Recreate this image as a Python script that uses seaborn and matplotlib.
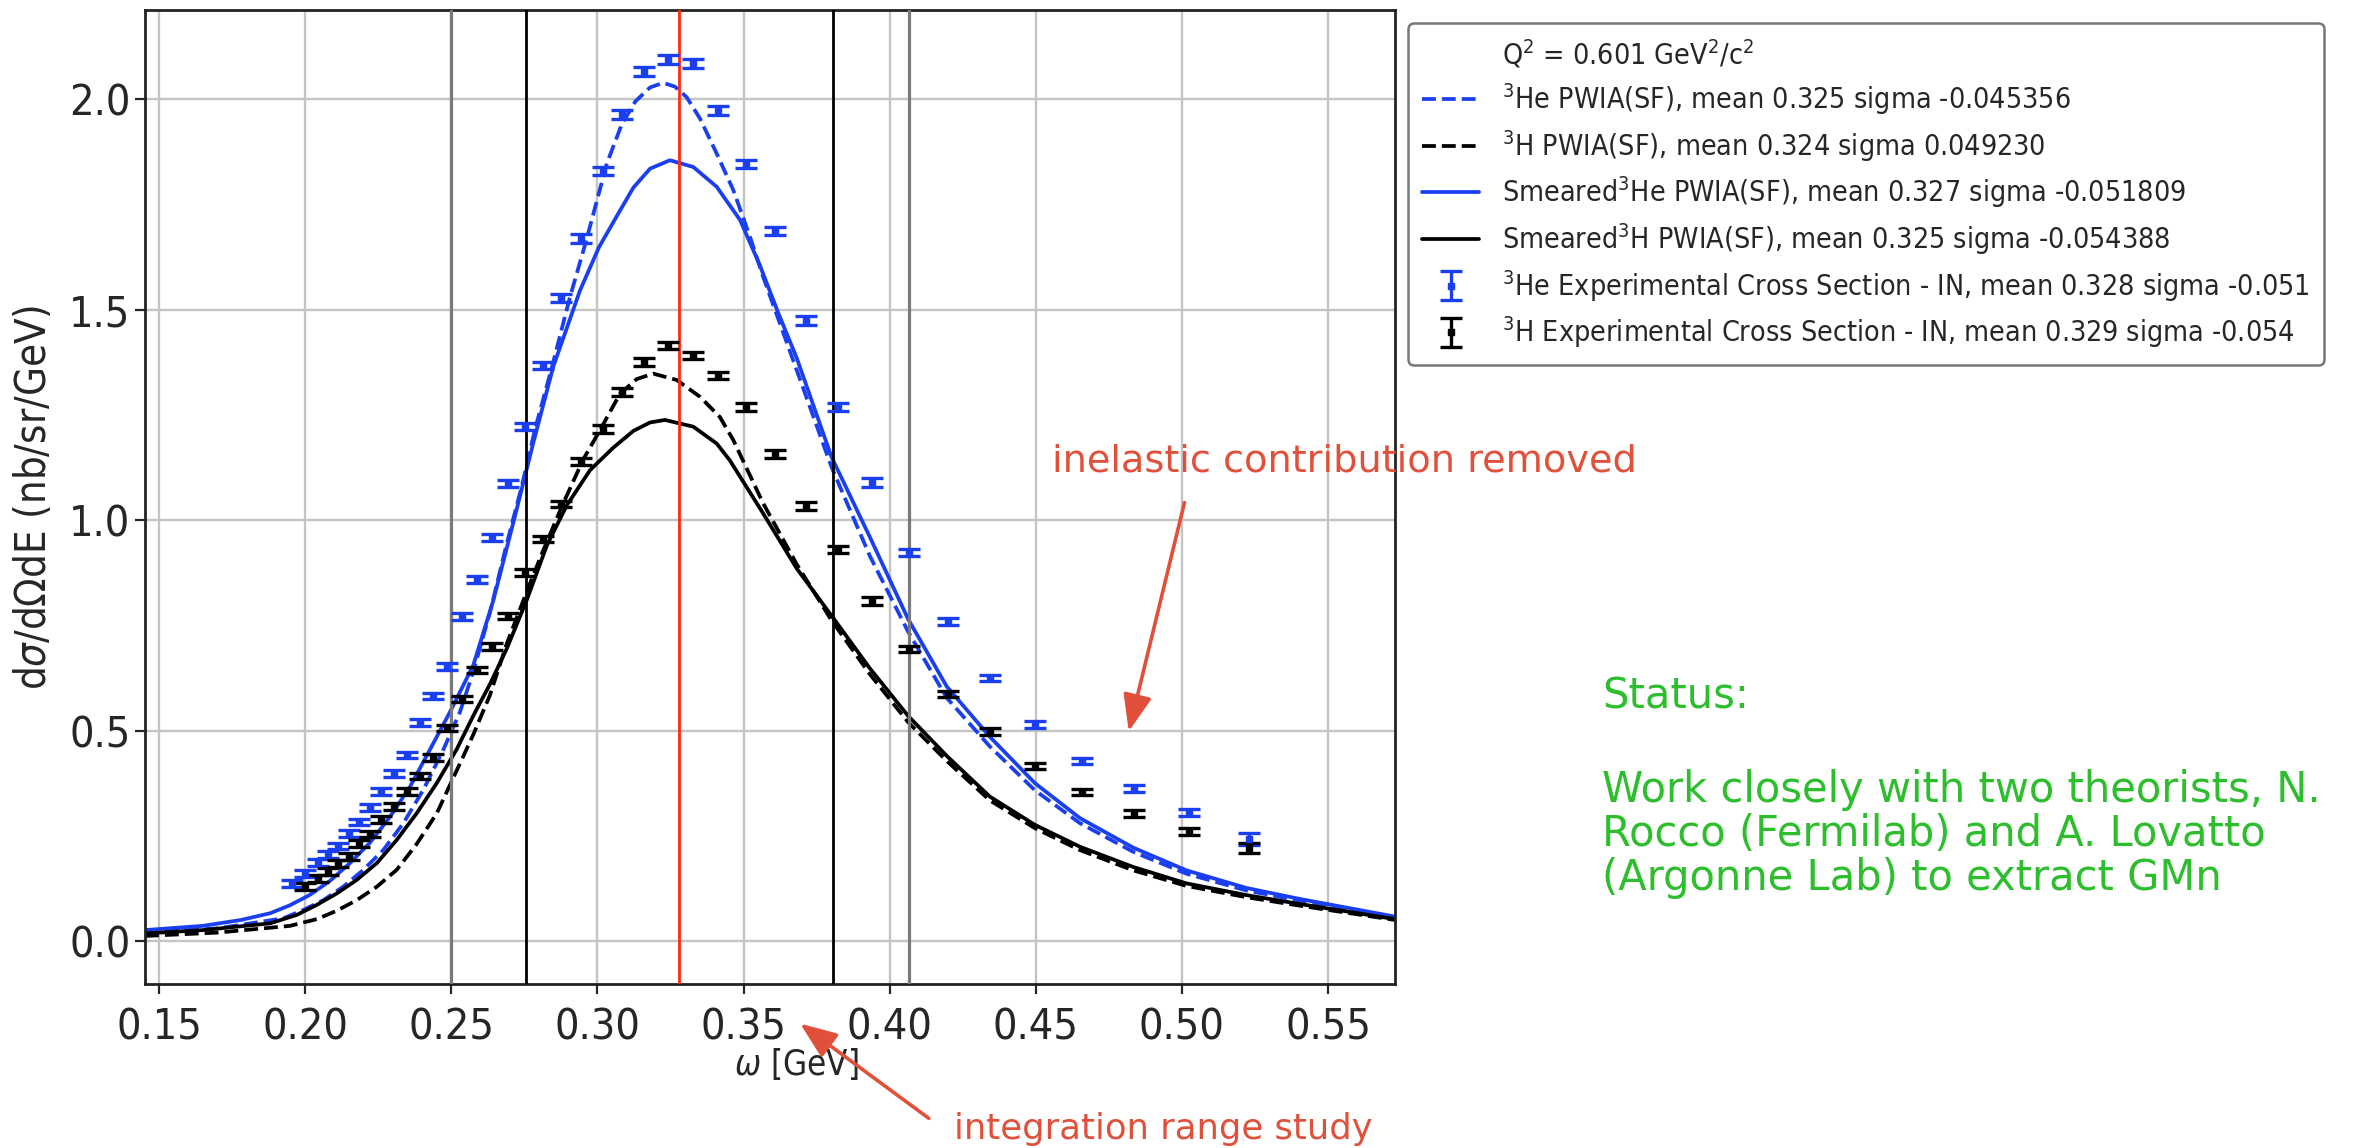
import matplotlib
matplotlib.use("Agg")
import matplotlib.pyplot as plt
from matplotlib import font_manager as fm
from matplotlib.lines import Line2D
import seaborn as sns

# ---------------- data ----------------
# 3He experimental cross section
he_omega = [0.1954, 0.1999, 0.2045, 0.2079, 0.2113, 0.2151, 0.2185, 0.2222, 0.2260, 0.2304,
            0.2347, 0.2393, 0.2438, 0.2484, 0.2536, 0.2587, 0.2638, 0.2695, 0.2752, 0.2815,
            0.2875, 0.2944, 0.3018, 0.3083, 0.3158, 0.3243, 0.3328, 0.3414, 0.3507, 0.3608,
            0.3713, 0.3823, 0.3941, 0.4065, 0.4198, 0.4343, 0.4497, 0.4659, 0.4836, 0.5024, 0.5230]
he_xs = [0.137, 0.161, 0.186, 0.206, 0.226, 0.256, 0.283, 0.318, 0.356, 0.398,
         0.442, 0.519, 0.582, 0.652, 0.771, 0.859, 0.959, 1.087, 1.222, 1.367,
         1.528, 1.669, 1.829, 1.964, 2.066, 2.094, 2.085, 1.973, 1.846, 1.687,
         1.474, 1.269, 1.089, 0.923, 0.760, 0.625, 0.515, 0.428, 0.362, 0.305, 0.242]
he_err = [0.008] * 20 + [0.010] * 13 + [0.008] * 7 + [0.014]

# 3H experimental cross section
h_omega = [0.1999, 0.2045, 0.2079, 0.2113, 0.2151, 0.2185, 0.2222, 0.2260, 0.2304, 0.2347,
           0.2393, 0.2438, 0.2484, 0.2536, 0.2587, 0.2638, 0.2695, 0.2752, 0.2815, 0.2875,
           0.2944, 0.3018, 0.3083, 0.3158, 0.3243, 0.3328, 0.3414, 0.3507, 0.3608, 0.3713,
           0.3823, 0.3941, 0.4065, 0.4198, 0.4343, 0.4497, 0.4659, 0.4836, 0.5024, 0.5230]
h_xs = [0.129, 0.149, 0.165, 0.185, 0.200, 0.232, 0.254, 0.289, 0.320, 0.356,
        0.392, 0.436, 0.506, 0.575, 0.644, 0.699, 0.772, 0.875, 0.955, 1.038,
        1.139, 1.217, 1.305, 1.376, 1.415, 1.391, 1.344, 1.269, 1.157, 1.034,
        0.930, 0.808, 0.694, 0.587, 0.497, 0.416, 0.354, 0.303, 0.260, 0.220]
h_err = [0.008] * 20 + [0.009] * 12 + [0.008] * 7 + [0.012]

# 3He PWIA(SF) (dashed blue)
he_pwia_omega = [0.1452, 0.170, 0.1925, 0.1994, 0.2062, 0.2130, 0.2199, 0.2267, 0.2336, 0.2404,
                 0.2473, 0.2530, 0.2575, 0.2632, 0.2690, 0.2741, 0.2786, 0.2843, 0.2906, 0.2960,
                 0.3032, 0.3083, 0.3130, 0.3180, 0.3225, 0.3265, 0.3305, 0.3351, 0.3408, 0.3465,
                 0.3522, 0.3567, 0.3682, 0.3801, 0.3932, 0.4063, 0.4195, 0.4343, 0.4497, 0.4651,
                 0.4833, 0.5015, 0.5221, 0.5403, 0.5729]
he_pwia = [0.020, 0.030, 0.054, 0.074, 0.097, 0.129, 0.169, 0.216, 0.280, 0.359,
           0.455, 0.545, 0.640, 0.780, 0.945, 1.080, 1.215, 1.360, 1.530, 1.660,
           1.847, 1.940, 1.995, 2.028, 2.039, 2.030, 2.005, 1.954, 1.871, 1.784,
           1.673, 1.578, 1.356, 1.126, 0.915, 0.735, 0.578, 0.462, 0.358, 0.280,
           0.212, 0.160, 0.120, 0.096, 0.056]

# 3H PWIA(SF) (dashed black)
h_pwia_omega = [0.1452, 0.170, 0.1948, 0.2040, 0.2108, 0.2176, 0.2245, 0.2313, 0.2381, 0.2450,
                0.2515, 0.2575, 0.2632, 0.2690, 0.2758, 0.2815, 0.2883, 0.2952, 0.3009, 0.3077,
                0.3134, 0.3191, 0.3271, 0.3351, 0.3419, 0.3465, 0.3567, 0.3682, 0.3801, 0.3932,
                0.4063, 0.4195, 0.4343, 0.4497, 0.4651, 0.4833, 0.5015, 0.5221, 0.5403, 0.5729]
h_pwia = [0.012, 0.020, 0.036, 0.052, 0.072, 0.097, 0.129, 0.169, 0.230, 0.303,
          0.400, 0.490, 0.584, 0.707, 0.830, 0.929, 1.040, 1.145, 1.214, 1.300,
          1.335, 1.348, 1.333, 1.293, 1.245, 1.190, 1.040, 0.895, 0.762, 0.634,
          0.520, 0.428, 0.334, 0.268, 0.216, 0.168, 0.131, 0.104, 0.084, 0.050]

# Smeared 3He PWIA(SF) (solid blue)
he_smear_omega = [0.1452, 0.165, 0.178, 0.188, 0.1948, 0.2017, 0.2085, 0.2153, 0.2222, 0.2290,
                  0.2359, 0.2427, 0.2496, 0.2575, 0.2644, 0.2718, 0.2781, 0.2849, 0.2940, 0.3005,
                  0.3066, 0.3123, 0.3180, 0.3248, 0.3328, 0.3408, 0.3488, 0.3556, 0.3620, 0.3682,
                  0.3801, 0.3932, 0.4063, 0.4195, 0.4343, 0.4497, 0.4651, 0.4833, 0.5015, 0.5221,
                  0.5403, 0.5729]
he_smear = [0.026, 0.036, 0.050, 0.066, 0.085, 0.110, 0.143, 0.185, 0.234, 0.295,
            0.367, 0.455, 0.545, 0.655, 0.810, 1.010, 1.185, 1.365, 1.545, 1.648,
            1.722, 1.790, 1.835, 1.855, 1.839, 1.792, 1.713, 1.605, 1.490, 1.385,
            1.150, 0.960, 0.765, 0.605, 0.485, 0.375, 0.292, 0.222, 0.168, 0.126,
            0.100, 0.058]

# Smeared 3H PWIA(SF) (solid black)
h_smear_omega = [0.1452, 0.165, 0.1880, 0.1971, 0.2040, 0.2108, 0.2176, 0.2245, 0.2313, 0.2381,
                 0.2450, 0.2518, 0.2575, 0.2632, 0.2690, 0.2758, 0.2827, 0.2895, 0.2975, 0.3054,
                 0.3123, 0.3180, 0.3231, 0.3328, 0.3408, 0.3453, 0.3567, 0.3682, 0.3801, 0.3932,
                 0.4063, 0.4195, 0.4343, 0.4497, 0.4651, 0.4833, 0.5015, 0.5221, 0.5403, 0.5729]
h_smear = [0.018, 0.026, 0.042, 0.062, 0.086, 0.113, 0.145, 0.185, 0.240, 0.303,
           0.375, 0.455, 0.535, 0.610, 0.695, 0.810, 0.940, 1.035, 1.119, 1.172,
           1.212, 1.232, 1.238, 1.222, 1.182, 1.142, 1.016, 0.885, 0.773, 0.648,
           0.535, 0.440, 0.343, 0.276, 0.224, 0.176, 0.137, 0.109, 0.088, 0.052]

# integration-range markers
cut_gray = [0.25, 0.4066]
cut_black = [0.2756, 0.3807]
cut_red = [0.3279]

x_ticks = [0.15, 0.20, 0.25, 0.30, 0.35, 0.40, 0.45, 0.50, 0.55]
y_ticks = [0.0, 0.5, 1.0, 1.5, 2.0]

legend_labels = [
    r"Q$^2$ = 0.601 GeV$^2$/c$^2$",
    r"$^3$He PWIA(SF), mean 0.325 sigma -0.045356",
    r"$^3$H PWIA(SF), mean 0.324 sigma 0.049230",
    r"Smeared$^3$He PWIA(SF), mean 0.327 sigma -0.051809",
    r"Smeared$^3$H PWIA(SF), mean 0.325 sigma -0.054388",
    r"$^3$He Experimental Cross Section - IN, mean 0.328 sigma -0.051",
    r"$^3$H Experimental Cross Section - IN, mean 0.329 sigma -0.054",
]

status_lines = ["Status:", "Work closely with two theorists, N.",
                "Rocco (Fermilab) and A. Lovatto", "(Argonne Lab) to extract GMn"]

# ---------------- style ----------------
sns.set_style("ticks")
cond_name = None
for f in fm.fontManager.ttflist:
    fn = f.fname.replace("\\", "/").split("/")[-1].lower()
    if fn == "dejavusanscondensed.ttf":
        cond_name = f.name
        break
if cond_name is None:
    for f in fm.fontManager.ttflist:
        fn = f.fname.replace("\\", "/").split("/")[-1].lower()
        if fn == "liberationsansnarrow-regular.ttf":
            cond_name = f.name
            break
if cond_name is not None:
    plt.rcParams["font.family"] = [cond_name, "DejaVu Sans"]
    plt.rcParams["font.stretch"] = "condensed"
else:
    plt.rcParams["font.family"] = ["DejaVu Sans"]

ann_font = {"family": ["DejaVu Sans"], "stretch": "normal"}

BLUE = "#1a3ff0"
BLACK = "#000000"
RED_ANN = "#e0503a"
GREEN = "#2dbe2d"
LW = 2.7

fig = plt.figure(figsize=(23.74, 11.48), dpi=100)
ax = fig.add_axes([0.0611, 0.1429, 0.5265, 0.8484])

# curves
sns.lineplot(x=he_pwia_omega, y=he_pwia, ax=ax, color=BLUE, linestyle="--", lw=LW, sort=False)
sns.lineplot(x=h_pwia_omega, y=h_pwia, ax=ax, color=BLACK, linestyle="--", lw=LW, sort=False)
sns.lineplot(x=he_smear_omega, y=he_smear, ax=ax, color=BLUE, lw=LW, sort=False)
sns.lineplot(x=h_smear_omega, y=h_smear, ax=ax, color=BLACK, lw=LW, sort=False)

# experimental points
eb_he = ax.errorbar(he_omega, he_xs, yerr=he_err, fmt="s", color=BLUE, ms=5,
                    capsize=8, capthick=2.4, elinewidth=2.4, zorder=4)
eb_h = ax.errorbar(h_omega, h_xs, yerr=h_err, fmt="s", color=BLACK, ms=5,
                   capsize=8, capthick=2.4, elinewidth=2.4, zorder=4)

# vertical lines
for xv in cut_gray:
    ax.axvline(xv, color="#7a7a7a", lw=2.3, zorder=3)
for xv in cut_black:
    ax.axvline(xv, color="black", lw=2.0, zorder=3)
for xv in cut_red:
    ax.axvline(xv, color="#ff2a10", lw=2.0, zorder=3)

ax.set_xlim(0.1452, 0.5729)
ax.set_ylim(-0.102, 2.212)
ax.set_xticks(x_ticks)
ax.set_xticklabels([f"{v:.2f}" for v in x_ticks])
ax.set_yticks(y_ticks)
ax.set_yticklabels([f"{v:.1f}" for v in y_ticks])
ax.tick_params(axis="both", labelsize=31, length=7, width=1.6, direction="out")
ax.tick_params(axis="x", pad=9)
ax.grid(True, color="#c4c4c4", lw=1.7)
ax.set_axisbelow(True)
for sp in ax.spines.values():
    sp.set_visible(True)
    sp.set_linewidth(2.0)
    sp.set_color("#222222")

ax.set_xlabel(r"$\omega$ [GeV]", fontsize=25, labelpad=4)
ax.xaxis.set_label_coords(0.521, -0.064)
ax.set_ylabel(r"d$\sigma$/d$\Omega$dE (nb/sr/GeV)", fontsize=30, labelpad=10)

# legend
handles = [
    Line2D([], [], color="none"),
    Line2D([], [], color=BLUE, ls="--", lw=LW),
    Line2D([], [], color=BLACK, ls="--", lw=LW),
    Line2D([], [], color=BLUE, lw=LW),
    Line2D([], [], color=BLACK, lw=LW),
    eb_he,
    eb_h,
]
leg = fig.legend(handles, legend_labels, loc="upper left", bbox_to_anchor=(0.5931, 0.980),
                 borderaxespad=0.0, fontsize=20.5, labelspacing=0.38, handlelength=2.0,
                 handletextpad=0.8, borderpad=0.5, frameon=True, fancybox=True)
leg.get_frame().set_edgecolor("#555555")
leg.get_frame().set_linewidth(1.8)

# annotations
fig.text(0.4431, 0.5976, "inelastic contribution removed", color=RED_ANN, fontsize=27.5,
         ha="left", va="center", fontdict=ann_font)
fig.add_artist(matplotlib.patches.FancyArrowPatch(
    (0.4992, 0.5645), (0.4752, 0.3606), transform=fig.transFigure,
    arrowstyle="-|>,head_length=1.4,head_width=0.55", mutation_scale=16,
    color=RED_ANN, lw=2.6))
fig.text(0.4019, 0.008, "integration range study", color=RED_ANN, fontsize=25.5,
         ha="left", va="baseline", fontdict=ann_font)
fig.add_artist(matplotlib.patches.FancyArrowPatch(
    (0.3922, 0.0244), (0.3361, 0.1098), transform=fig.transFigure,
    arrowstyle="-|>,head_length=1.4,head_width=0.55", mutation_scale=16,
    color=RED_ANN, lw=2.6))

status_y = [0.393, 0.3118, 0.2735, 0.2352]
for s, yy in zip(status_lines, status_y):
    fig.text(0.6748, yy, s, color=GREEN, fontsize=30, ha="left", va="center", fontdict=ann_font)

fig.savefig("out.png", dpi=100)
